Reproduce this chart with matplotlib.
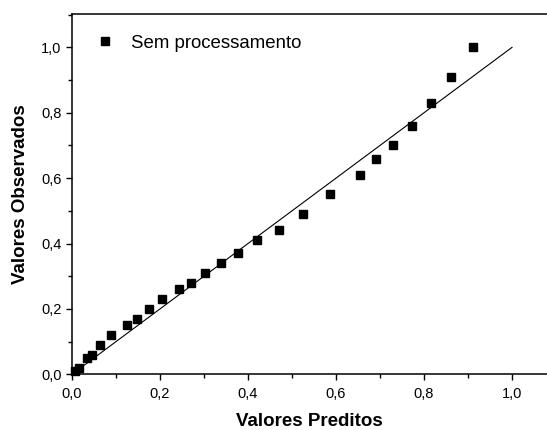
import matplotlib
matplotlib.use("Agg")
import matplotlib.pyplot as plt
from matplotlib.ticker import MultipleLocator, FuncFormatter

plt.rcParams["font.family"] = ["Liberation Sans", "DejaVu Sans"]

# predicted vs observed values (no processing)
preditos = [0.007, 0.017, 0.033, 0.046, 0.064, 0.089, 0.125, 0.148, 0.174,
            0.205, 0.243, 0.270, 0.303, 0.338, 0.377, 0.420, 0.470, 0.525,
            0.586, 0.655, 0.692, 0.730, 0.773, 0.816, 0.862, 0.911]
observados = [0.01, 0.02, 0.05, 0.06, 0.09, 0.12, 0.15, 0.17, 0.20,
              0.23, 0.26, 0.28, 0.31, 0.34, 0.37, 0.41, 0.44, 0.49,
              0.55, 0.61, 0.66, 0.70, 0.76, 0.83, 0.91, 1.00]
linha_ref = [0.0, 1.0]

fig = plt.figure(figsize=(5.47, 4.30), dpi=100)
ax = fig.add_axes([72 / 547, 55.7 / 430, 475 / 547, 360.3 / 430])

ax.plot(linha_ref, linha_ref, color="black", linewidth=0.8)
ax.plot(preditos, observados, linestyle="none", marker="s", markersize=5.8,
        color="black", label="Sem processamento", clip_on=False)

ax.set_xlim(0, 1.0795)
ax.set_ylim(0, 1.102)

ax.xaxis.set_major_locator(MultipleLocator(0.2))
ax.xaxis.set_minor_locator(MultipleLocator(0.1))
ax.yaxis.set_major_locator(MultipleLocator(0.2))
ax.yaxis.set_minor_locator(MultipleLocator(0.1))

virgula = FuncFormatter(lambda v, pos: f"{v:.1f}".replace(".", ","))
ax.xaxis.set_major_formatter(virgula)
ax.yaxis.set_major_formatter(virgula)

ax.tick_params(which="major", direction="out", length=4.5, width=1.0,
               labelsize=10.5, pad=3)
ax.tick_params(axis="x", which="major", pad=5)
ax.tick_params(which="minor", direction="out", length=2.7, width=1.0)

for lado in ["left", "bottom", "top"]:
    ax.spines[lado].set_linewidth(1.1)
ax.spines["right"].set_visible(False)

ax.set_xlabel("Valores Preditos", fontsize=13.5, fontweight="bold", labelpad=8)
ax.set_ylabel("Valores Observados", fontsize=13.5, fontweight="bold", labelpad=9)

ax.legend(loc="upper left", bbox_to_anchor=(0.022, 0.978), frameon=False,
          fontsize=13.4, handlelength=1.0, handletextpad=0.9, borderpad=0.2)

plt.savefig("out.png", dpi=100)
plt.close()
